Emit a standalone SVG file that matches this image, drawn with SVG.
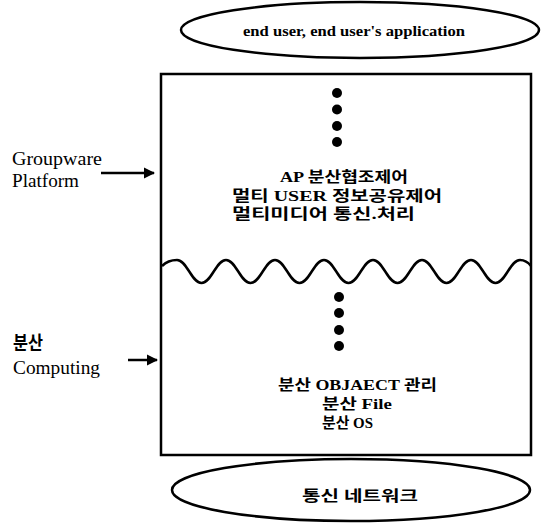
<svg xmlns="http://www.w3.org/2000/svg" width="550" height="524" viewBox="0 0 550 524">
<defs>
<style>
.ln{fill:none;stroke:#000;stroke-width:2.5}
.ell{fill:#fff;stroke:#000;stroke-width:2.5}
.dot{fill:#000}
.t{font-family:"Liberation Serif","Noto Sans CJK KR",serif;fill:#000}
.k{font-family:"Liberation Serif","Noto Sans CJK KR",serif;font-weight:bold;font-size:15px;fill:#000}
.lbl{font-family:"Liberation Serif","Noto Sans CJK KR",serif;font-size:19px;fill:#000}
</style>
<marker id="ah" viewBox="0 0 10 10" refX="9" refY="5" markerWidth="4.5" markerHeight="4.5" orient="auto" markerUnits="strokeWidth">
<path d="M0,0 L10,5 L0,10 z" fill="#000"/>
</marker>
</defs>
<rect width="550" height="524" fill="#fff"/>

<g id="enduser">
<ellipse class="ell" cx="360" cy="30" rx="179" ry="28"/>
<text class="t" x="243" y="36" font-size="14" font-weight="bold" textLength="222" lengthAdjust="spacingAndGlyphs">end user, end user's application</text>
</g>

<g id="platform">
<rect class="ln" x="161" y="74" width="370" height="381"/>
<circle class="dot" cx="337" cy="93" r="5"/>
<circle class="dot" cx="337" cy="109.5" r="5"/>
<circle class="dot" cx="337" cy="126" r="5"/>
<circle class="dot" cx="337" cy="142" r="5"/>
<text class="k" x="280" y="182" textLength="128" lengthAdjust="spacingAndGlyphs">AP 분산협조제어</text>
<text class="k" x="232" y="201" textLength="210" lengthAdjust="spacingAndGlyphs">멀티 USER 정보공유제어</text>
<text class="k" x="232" y="219" textLength="183" lengthAdjust="spacingAndGlyphs">멀티미디어  통신.처리</text>
</g>

<g id="divider">
<path class="ln" d="M162,266 C167,261 171,260 177,260 C187,260 191.5,283 201.5,283 C211.5,283 216,260 226,260 C236,260 240.5,283 250.5,283 C260.5,283 265,260 275,260 C285,260 289.5,283 299.5,283 C309.5,283 314,260 324,260 C334,260 338.5,283 348.5,283 C358.5,283 363,260 373,260 C383,260 387.5,283 397.5,283 C407.5,283 412,260 422,260 C432,260 436.5,283 446.5,283 C456.5,283 461,260 471,260 C481,260 485.5,283 495.5,283 C505.5,283 510,260 520,260 C525,260 528,262 531,266"/>
</g>

<g id="computing">
<circle class="dot" cx="339" cy="297" r="5"/>
<circle class="dot" cx="339" cy="313" r="5"/>
<circle class="dot" cx="339" cy="330" r="5"/>
<circle class="dot" cx="339" cy="346" r="5"/>
<text class="k" x="278" y="390" textLength="159" lengthAdjust="spacingAndGlyphs">분산 OBJAECT 관리</text>
<text class="k" x="322" y="409" textLength="70" lengthAdjust="spacingAndGlyphs">분산 File</text>
<text class="k" x="322" y="428" textLength="51" lengthAdjust="spacingAndGlyphs">분산 OS</text>
</g>

<g id="network">
<ellipse class="ell" cx="351" cy="490" rx="179" ry="31"/>
<text class="k" x="302" y="501" textLength="116" lengthAdjust="spacingAndGlyphs">통신  네트워크</text>
</g>

<g id="label-groupware">
<text class="lbl" x="12" y="165" textLength="90" lengthAdjust="spacingAndGlyphs">Groupware</text>
<text class="lbl" x="12" y="187" textLength="67" lengthAdjust="spacingAndGlyphs">Platform</text>
</g>

<g id="label-computing">
<text class="lbl" x="13" y="350" font-weight="bold" font-size="16" textLength="30" lengthAdjust="spacingAndGlyphs">분산</text>
<text class="lbl" x="13" y="374" textLength="87" lengthAdjust="spacingAndGlyphs">Computing</text>
</g>

<g id="connectors">
<line class="ln" x1="101" y1="173" x2="154" y2="173" marker-end="url(#ah)"/>
<line class="ln" x1="128" y1="360" x2="157" y2="360" marker-end="url(#ah)"/>
</g>
</svg>
